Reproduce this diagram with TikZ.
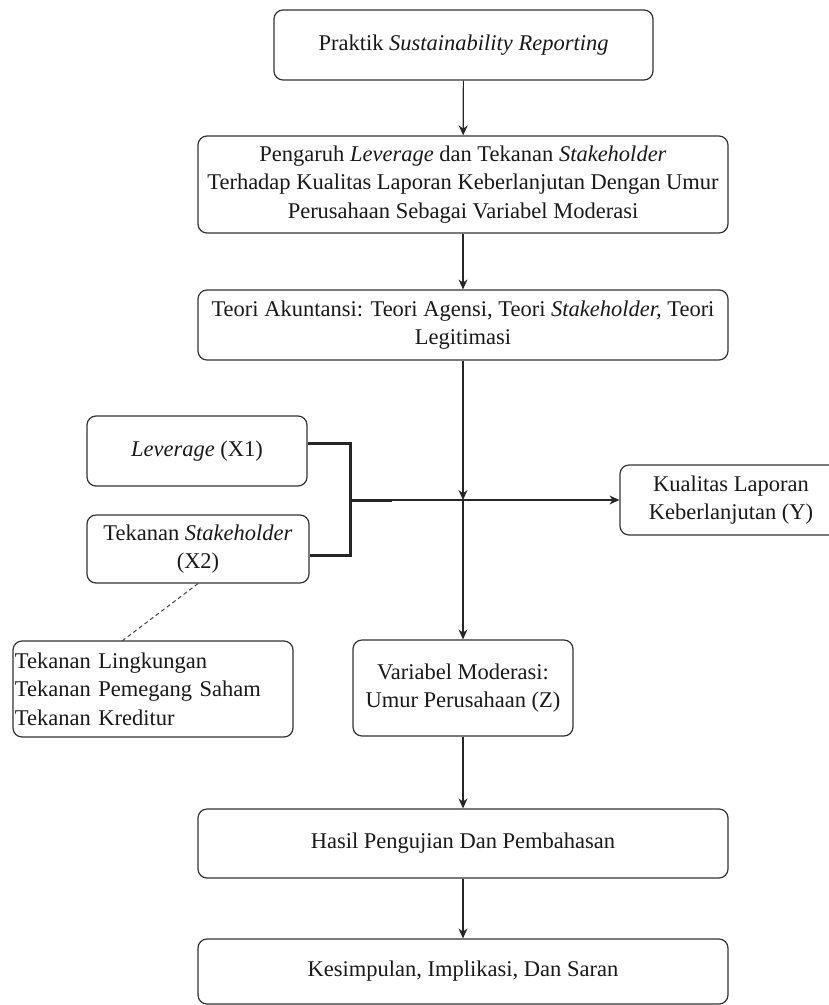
\documentclass[tikz,border=0pt]{standalone}
\usepackage{fontspec}
\setmainfont{Liberation Serif}
\usetikzlibrary{arrows.meta,calc}
\begin{document}
\begin{tikzpicture}[x=1pt,y=-1pt,
  box/.style={draw=black!80, line width=1.2pt, rounded corners=9pt, align=center,
    inner sep=2pt, font=\fontsize{22.5}{28.5}\selectfont, text=black!90},
  arr/.style={draw=black!85, line width=1.2pt, -{Stealth[length=10pt,width=9pt]}},
  thickline/.style={draw=black!85, line width=3pt},
  dashline/.style={draw=black!75, line width=1pt, dash pattern=on 4pt off 3pt}
]
\useasboundingbox (0,0) rectangle (829,1005);

\node[box, minimum width=379pt, minimum height=70pt] (b1) at (463.5,45)
  {Praktik \textit{Sustainability Reporting}};
\node[box, minimum width=530pt, minimum height=97pt] (b2) at (463,184.5)
  {Pengaruh \textit{Leverage} dan Tekanan \textit{Stakeholder}\\Terhadap Kualitas Laporan Keberlanjutan Dengan Umur\\Perusahaan Sebagai Variabel Moderasi};
\node[box, minimum width=530pt, minimum height=70pt] (b3) at (463,325)
  {Teori Akuntansi: Teori Agensi, Teori \textit{Stakeholder,} Teori\\Legitimasi};
\node[box, minimum width=220pt, minimum height=70pt] (lev) at (197,451)
  {\textit{Leverage} (X1)};
\node[box, minimum width=222pt, minimum height=68pt] (tek) at (198,549)
  {Tekanan \textit{Stakeholder}\\(X2)};
\node[box, minimum width=222pt, minimum height=70pt] (kual) at (731,500)
  {Kualitas Laporan\\Keberlanjutan (Y)};
\node[box, minimum width=280pt, minimum height=96pt, text width=276pt, align=left, inner xsep=1pt] (tl) at (153,689)
  {Tekanan Lingkungan\\Tekanan Pemegang Saham\\Tekanan Kreditur};
\node[box, minimum width=220pt, minimum height=96pt] (var) at (463,688)
  {Variabel Moderasi:\\Umur Perusahaan (Z)};
\node[box, minimum width=530pt, minimum height=69pt] (hasil) at (463,843.5)
  {Hasil Pengujian Dan Pembahasan};
\node[box, minimum width=530pt, minimum height=65pt] (kes) at (463,971.5)
  {Kesimpulan, Implikasi, Dan Saran};

\coordinate (cross) at (463,500);
\coordinate (bk) at (350,500);
\coordinate (bkend) at (392,500);
\coordinate (tlend) at (122,641);

\draw[arr] (b1) -- (b2);
\draw[arr] (b2) -- (b3);
\draw[arr] (b3) -- (cross);
\draw[arr] (cross) -- (var);
\draw[thickline] ([yshift=8pt]lev.east) -| (bk) |- ([yshift=-6pt]tek.east);
\draw[thickline] (bk) -- (bkend);
\draw[arr] (bkend) -- (kual);
\draw[dashline] (tek.south) -- (tlend);
\draw[arr] (var) -- (hasil);
\draw[arr] (hasil) -- (kes);
\end{tikzpicture}
\end{document}
